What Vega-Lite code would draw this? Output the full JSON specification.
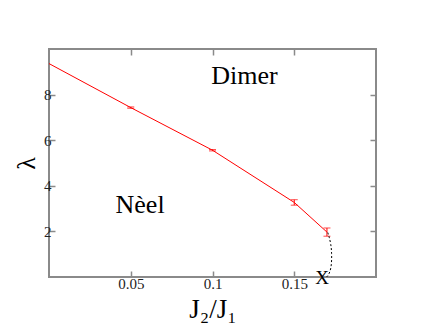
{
  "$schema": "https://vega.github.io/schema/vega-lite/v6.json",
  "width": 327,
  "height": 228,
  "autosize": "none",
  "padding": {"left": 49, "top": 49, "right": 47, "bottom": 50},
  "background": "white",
  "config": {
    "view": {"stroke": "#8a8a8a", "strokeWidth": 2},
    "axis": {
      "domain": false,
      "grid": false,
      "tickColor": "#8a8a8a",
      "tickWidth": 1.5,
      "tickSize": -6,
      "titleFont": "Liberation Serif",
      "titleColor": "#000",
      "titleFontWeight": "normal"
    }
  },
  "datasets": {
    "main": [
      {"j": 0.0, "lam": 9.36},
      {"j": 0.05, "lam": 7.43},
      {"j": 0.1, "lam": 5.56},
      {"j": 0.15, "lam": 3.27},
      {"j": 0.17, "lam": 1.97}
    ],
    "err": [
      {"j": 0.05, "lo": 7.40, "hi": 7.46},
      {"j": 0.1, "lo": 5.53, "hi": 5.59},
      {"j": 0.15, "lo": 3.15, "hi": 3.39},
      {"j": 0.17, "lo": 1.79, "hi": 2.15}
    ],
    "dash": [
      {"i": 0, "j": 0.1705, "lam": 1.95},
      {"i": 1, "j": 0.1713, "lam": 1.78},
      {"i": 2, "j": 0.1725, "lam": 1.41},
      {"i": 3, "j": 0.1729, "lam": 1.05},
      {"i": 4, "j": 0.1729, "lam": 0.61},
      {"i": 5, "j": 0.1719, "lam": 0.18},
      {"i": 6, "j": 0.1698, "lam": 0.0}
    ],
    "labels": [
      {"j": 0.1195, "lam": 8.82, "t": "Dimer"},
      {"j": 0.0557, "lam": 3.17, "t": "Nèel"}
    ],
    "xlab": [
      {"j": 0.167, "lam": -0.03, "t": "X"}
    ]
  },
  "resolve": {"axis": {"x": "independent", "y": "independent"}},
  "layer": [
    {
      "data": {"name": "main"},
      "mark": {"type": "line", "color": "#ff0000", "strokeWidth": 1},
      "encoding": {
        "x": {
          "field": "j", "type": "quantitative",
          "scale": {"domain": [0, 0.2], "nice": false, "zero": false},
          "axis": {"values": [0.05, 0.1, 0.15], "format": "~g", "title": "J₂/J₁", "titleFontSize": 27, "labelFont": "Liberation Serif", "labelFontSize": 15, "labelColor": "#222", "labelPadding": 5, "titleBaseline": "alphabetic", "titleY": 40}
        },
        "y": {
          "field": "lam", "type": "quantitative",
          "scale": {"domain": [0, 10], "nice": false, "zero": false},
          "axis": {"values": [2, 4, 6, 8], "title": "λ", "titleFontSize": 26, "labelFont": "Liberation Serif", "labelFontSize": 15, "labelColor": "#222", "labelPadding": 4, "titleX": -23, "titleY": 114, "titleAlign": "center", "titleBaseline": "middle"}
        }
      }
    },
    {
      "data": {"name": "err"},
      "mark": {"type": "errorbar", "ticks": {"size": 7, "color": "#ff0000", "strokeWidth": 1}, "rule": {"color": "#ff0000", "strokeWidth": 1}},
      "encoding": {
        "x": {"field": "j", "type": "quantitative", "axis": null},
        "y": {"field": "lo", "type": "quantitative", "axis": null},
        "y2": {"field": "hi"}
      }
    },
    {
      "data": {"name": "dash"},
      "mark": {"type": "line", "color": "#000", "strokeWidth": 1, "strokeDash": [2, 2], "interpolate": "basis"},
      "encoding": {
        "x": {"field": "j", "type": "quantitative", "axis": {"orient": "top", "values": [0.05, 0.1, 0.15], "labels": false, "title": null}},
        "y": {"field": "lam", "type": "quantitative", "axis": {"orient": "right", "values": [2, 4, 6, 8], "labels": false, "title": null}},
        "order": {"field": "i", "type": "quantitative"}
      }
    },
    {
      "data": {"name": "labels"},
      "mark": {"type": "text", "font": "Liberation Serif", "fontSize": 26, "color": "#000", "align": "center", "baseline": "middle"},
      "encoding": {
        "x": {"field": "j", "type": "quantitative", "axis": null},
        "y": {"field": "lam", "type": "quantitative", "axis": null},
        "text": {"field": "t"}
      }
    },
    {
      "data": {"name": "xlab"},
      "mark": {"type": "text", "font": "Liberation Serif", "fontSize": 19, "color": "#000", "align": "center", "baseline": "middle"},
      "encoding": {
        "x": {"field": "j", "type": "quantitative", "axis": null},
        "y": {"field": "lam", "type": "quantitative", "axis": null},
        "text": {"field": "t"}
      }
    }
  ]
}
